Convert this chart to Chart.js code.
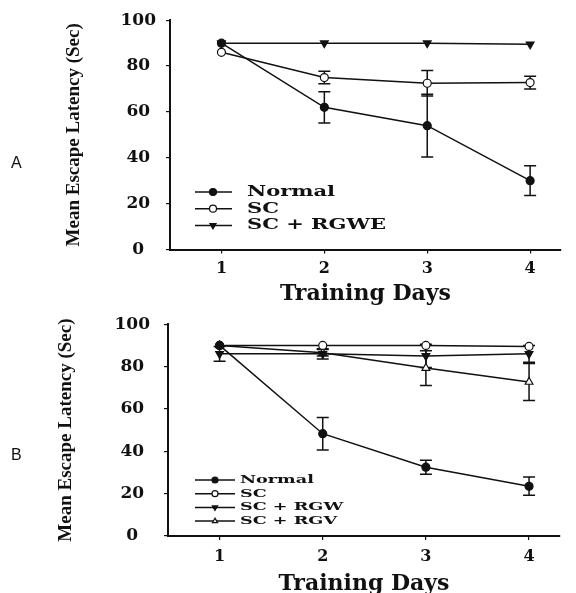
<!DOCTYPE html>
<html><head><meta charset="utf-8">
<script src="https://cdn.jsdelivr.net/npm/chart.js@4.4.0/dist/chart.umd.min.js"></script>
<style>
html,body{margin:0;padding:0;background:#fff;overflow:hidden;width:576px;height:593px;}
#wrap{position:relative;width:576px;height:593px;overflow:hidden;}
canvas{position:absolute;left:0;}
#cA{top:0}
#cB{top:300px}
.panel{position:absolute;font:16px "Liberation Sans",Arial,sans-serif;line-height:16px;color:#111}
</style></head><body>
<div id="wrap">
<canvas id="cA" width="576" height="310"></canvas>
<canvas id="cB" width="576" height="305"></canvas>
<div class="panel" style="left:11px;top:155px">A</div>
<div class="panel" style="left:11px;top:447px">B</div>
</div>
<script>
// ---- data ----
const days = [1, 2, 3, 4];
const yTicks = [0, 20, 40, 60, 80, 100];
const xTitle = 'Training Days';
const yTitle = 'Mean Escape Latency (Sec)';

// Panel A
const labelsA = ['Normal', 'SC', 'SC + RGWE'];
const normalA = [90, 62, 54, 30];
const normalAErr = [0, 6.8, 13.7, 6.5];
const scA = [86, 75, 72.5, 72.8];
const scAErr = [0, 2.7, 5.6, 2.8];
const rgweA = [90, 90, 90, 89.5];
const rgweAErr = [0, 0, 0, 0];

// Panel B
const labelsB = ['Normal', 'SC', 'SC + RGW', 'SC + RGV'];
const normalB = [90, 48.3, 32.5, 23.5];
const normalBErr = [0, 7.7, 3.3, 4.3];
const scB = [90, 90, 90, 89.5];
const scBErr = [0, 0, 0, 0];
const rgwB = [86, 86, 85, 86];
const rgwBErr = [3.5, 2.4, 5.5, 4];
const rgvB = [90, 86.5, 79.3, 72.7];
const rgvBErr = [0, 1.5, 8.2, 8.7];

// ---- helpers ----
const INK = '#111';
const SERIF = '"DejaVu Serif", "Liberation Serif", serif';

function drawMarker(ctx, style, rot, r, x, y) {
  if (Chart.helpers && Chart.helpers.drawPoint) {
    Chart.helpers.drawPoint(ctx, {pointStyle: style, rotation: rot, radius: r, borderWidth: 1.2}, x, y);
    return;
  }
  ctx.beginPath();
  if (style === 'circle') ctx.arc(x, y, r, 0, Math.PI * 2);
  else {
    const s = rot === 180 ? -1 : 1;
    ctx.moveTo(x, y - s * r); ctx.lineTo(x + r * 0.87, y + s * r * 0.5); ctx.lineTo(x - r * 0.87, y + s * r * 0.5); ctx.closePath();
  }
  ctx.fill(); ctx.stroke();
}

const errorBarPlugin = {
  id: 'errorBars',
  beforeDatasetsDraw(chart, args, o) {
    const ctx = chart.ctx, xs = chart.scales.x, ys = chart.scales.y;
    ctx.save();
    ctx.strokeStyle = INK; ctx.lineWidth = 1.5;
    chart.data.datasets.forEach(ds => {
      (ds.errors || []).forEach((e, i) => {
        if (!e) return;
        const p = ds.data[i];
        const px = xs.getPixelForValue(p.x);
        const yt = ys.getPixelForValue(p.y + e), yb = ys.getPixelForValue(p.y - e);
        ctx.beginPath();
        ctx.moveTo(px, yt); ctx.lineTo(px, yb);
        ctx.moveTo(px - o.cap, yt); ctx.lineTo(px + o.cap, yt);
        ctx.moveTo(px - o.cap, yb); ctx.lineTo(px + o.cap, yb);
        ctx.stroke();
      });
    });
    ctx.restore();
  }
};

const insetLegend = {
  id: 'insetLegend',
  afterDatasetsDraw(chart, args, o) {
    const ctx = chart.ctx;
    chart.data.datasets.forEach((ds, i) => {
      const y = o.y0 + i * o.dy;
      ctx.save();
      ctx.strokeStyle = INK; ctx.lineWidth = 1.5;
      ctx.beginPath(); ctx.moveTo(o.x0, y); ctx.lineTo(o.x1, y); ctx.stroke();
      ctx.fillStyle = ds.pointBackgroundColor; ctx.lineWidth = 1.2;
      drawMarker(ctx, ds.pointStyle, ds.pointRotation || 0, o.r, o.xm, y);
      ctx.fillStyle = INK;
      ctx.font = o.font; ctx.textBaseline = 'middle'; ctx.textAlign = 'left';
      ctx.translate(o.xt, y); ctx.scale(o.sx, 1);
      ctx.fillText(ds.label, 0, 0);
      ctx.restore();
    });
  }
};

function series(label, vals, errs, style, fill, rot) {
  return {
    label,
    data: days.map((d, i) => ({x: d, y: vals[i]})),
    errors: errs,
    borderColor: INK, borderWidth: 1.5,
    pointStyle: style, pointRadius: style === 'triangle' ? 4.5 : 4,
    pointBackgroundColor: fill, pointBorderColor: INK, pointBorderWidth: 1.2,
    pointRotation: rot || 0, fill: false, tension: 0
  };
}

function axisCommon() {
  return {
    grid: {display: true, drawOnChartArea: false, drawTicks: true, tickLength: 4, color: INK, lineWidth: 1.2},
    border: {display: true, color: INK, width: 2}
  };
}

function makeChart(id, datasets, L) {
  return new Chart(document.getElementById(id), {
    type: 'line',
    data: {datasets},
    options: {
      responsive: false, animation: false, devicePixelRatio: 1,
      layout: {padding: {top: L.top, right: L.right, left: 0, bottom: 0}},
      plugins: {
        legend: {display: false}, tooltip: {enabled: false},
        errorBars: {cap: 6},
        insetLegend: L.legend
      },
      scales: {
        x: Object.assign(axisCommon(), {
          type: 'linear', min: 0.5, max: 4.3,
          afterBuildTicks: s => { s.ticks = days.map(v => ({value: v})); },
          afterFit: s => { s.height = L.xh; },
          ticks: {color: INK, font: {family: SERIF, size: 16, weight: 'bold'}, padding: L.xpad, maxRotation: 0, autoSkip: false},
          title: {display: true, text: xTitle, color: INK, font: {family: SERIF, size: 22, weight: 'bold'}, padding: {top: 0, bottom: L.xtpad}}
        }),
        y: Object.assign(axisCommon(), {
          min: 0, max: 100,
          afterBuildTicks: s => { s.ticks = yTicks.map(v => ({value: v})); },
          afterFit: s => { s.width = L.yw; },
          ticks: {color: INK, font: {family: SERIF, size: 17, weight: 'bold'}, padding: L.ypad, crossAlign: 'center'},
          title: {display: true, text: yTitle, color: INK, font: {family: '"Liberation Serif", serif', size: 19, weight: 'bold'}, padding: {top: L.ytpad, bottom: 0}}
        })
      }
    },
    plugins: [errorBarPlugin, insetLegend]
  });
}

makeChart('cA', [
  series(labelsA[0], normalA, normalAErr, 'circle', INK),
  series(labelsA[1], scA, scAErr, 'circle', '#fff'),
  series(labelsA[2], rgweA, rgweAErr, 'triangle', INK, 180)
], {
  top: 17, right: 15, xh: 60.5, yw: 170, xpad: 6, xtpad: 2.8, ypad: 10, ytpad: 63,
  legend: {y0: 192, dy: 16.7, x0: 195, x1: 232, xm: 213, xt: 247, r: 3.5, font: 'bold 15px "DejaVu Serif", serif', sx: 1.4}
});

makeChart('cB', [
  series(labelsB[0], normalB, normalBErr, 'circle', INK),
  series(labelsB[1], scB, scBErr, 'circle', '#fff'),
  series(labelsB[2], rgwB, rgwBErr, 'triangle', INK, 180),
  series(labelsB[3], rgvB, rgvBErr, 'triangle', '#fff')
], {
  top: 20.7, right: 16, xh: 69, yw: 168, xpad: 7.4, xtpad: 7.3, ypad: 14, ytpad: 55,
  legend: {y0: 180, dy: 13.7, x0: 195, x1: 235, xm: 215, xt: 240, r: 3, font: 'bold 11px "DejaVu Serif", serif', sx: 1.6}
});
</script>
</body></html>
